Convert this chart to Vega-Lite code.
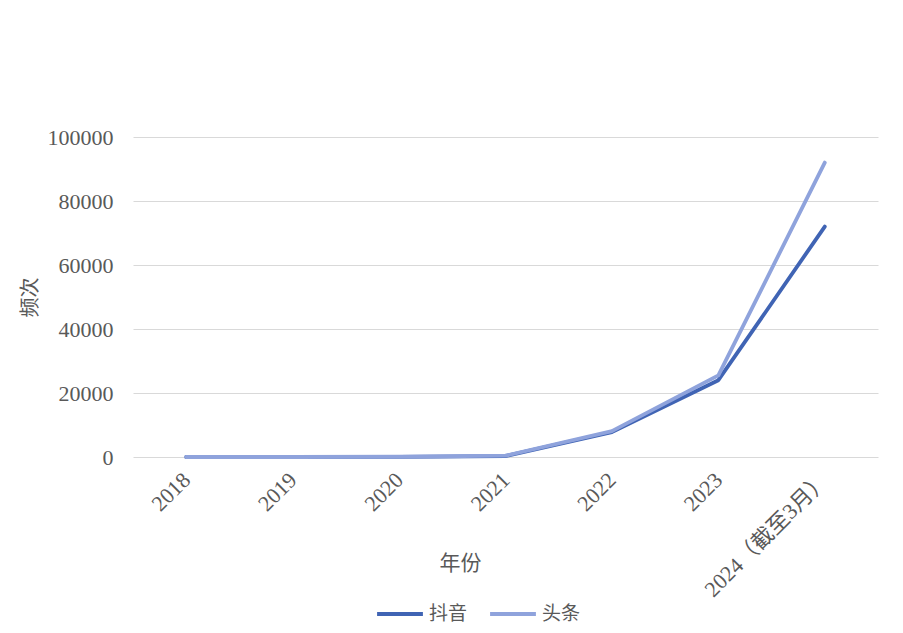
{
  "$schema": "https://vega.github.io/schema/vega-lite/v6.json",
  "width": 745,
  "height": 320,
  "autosize": {"type": "none"},
  "padding": {"left": 133, "top": 137, "right": 25, "bottom": 176},
  "background": "white",
  "config": {
    "view": {"stroke": null},
    "font": "Liberation Serif"
  },
  "data": {
    "values": [
      {"year": "2018", "series": "抖音", "value": 0},
      {"year": "2019", "series": "抖音", "value": 0},
      {"year": "2020", "series": "抖音", "value": 50},
      {"year": "2021", "series": "抖音", "value": 300},
      {"year": "2022", "series": "抖音", "value": 7800},
      {"year": "2023", "series": "抖音", "value": 24000},
      {"year": "2024（截至3月）", "series": "抖音", "value": 72000},
      {"year": "2018", "series": "头条", "value": 0},
      {"year": "2019", "series": "头条", "value": 0},
      {"year": "2020", "series": "头条", "value": 80},
      {"year": "2021", "series": "头条", "value": 400},
      {"year": "2022", "series": "头条", "value": 8100},
      {"year": "2023", "series": "头条", "value": 25500},
      {"year": "2024（截至3月）", "series": "头条", "value": 92000}
    ]
  },
  "mark": {"type": "line", "strokeWidth": 3.8, "strokeCap": "round", "strokeJoin": "round"},
  "encoding": {
    "x": {
      "field": "year",
      "type": "ordinal",
      "sort": null,
      "scale": {"type": "point", "padding": 0.5},
      "axis": {
        "title": "年份",
        "titleFont": "Noto Sans CJK SC",
        "titleFontWeight": "normal",
        "titleFontSize": 21,
        "titleColor": "#595959",
        "titleX": 327,
        "titleY": 106,
        "titleAlign": "center",
        "titleBaseline": "middle",
        "labelAngle": -45,
        "labelFont": "Liberation Serif, Noto Sans CJK SC",
        "labelFontSize": 22,
        "labelColor": "#595959",
        "labelAlign": "right",
        "labelBaseline": "middle",
        "labelPadding": 19,
        "ticks": false,
        "domain": false,
        "grid": false
      }
    },
    "y": {
      "field": "value",
      "type": "quantitative",
      "scale": {"domain": [0, 100000], "nice": false},
      "axis": {
        "values": [0, 20000, 40000, 60000, 80000, 100000],
        "format": "d",
        "title": "频次",
        "titleFont": "Noto Sans CJK SC",
        "titleFontWeight": "normal",
        "titleFontSize": 20,
        "titleColor": "#595959",
        "titleX": -103,
        "titleY": 160,
        "titleAlign": "center",
        "titleBaseline": "middle",
        "labelFont": "Liberation Serif",
        "labelFontSize": 22,
        "labelColor": "#595959",
        "labelPadding": 20,
        "ticks": false,
        "domain": false,
        "grid": true,
        "gridColor": "#d9d9d9",
        "gridWidth": 1
      }
    },
    "color": {
      "field": "series",
      "type": "nominal",
      "sort": ["抖音", "头条"],
      "scale": {"domain": ["抖音", "头条"], "range": ["#4064b4", "#8fa3dc"]},
      "legend": {
        "title": null,
        "orient": "none",
        "legendX": 242,
        "legendY": 452,
        "direction": "horizontal",
        "symbolType": "stroke",
        "symbolSize": 2100,
        "symbolStrokeWidth": 4,
        "labelFont": "Noto Sans CJK SC",
        "labelFontSize": 19,
        "labelColor": "#595959",
        "labelOffset": 4,
        "columnPadding": 14
      }
    }
  }
}
